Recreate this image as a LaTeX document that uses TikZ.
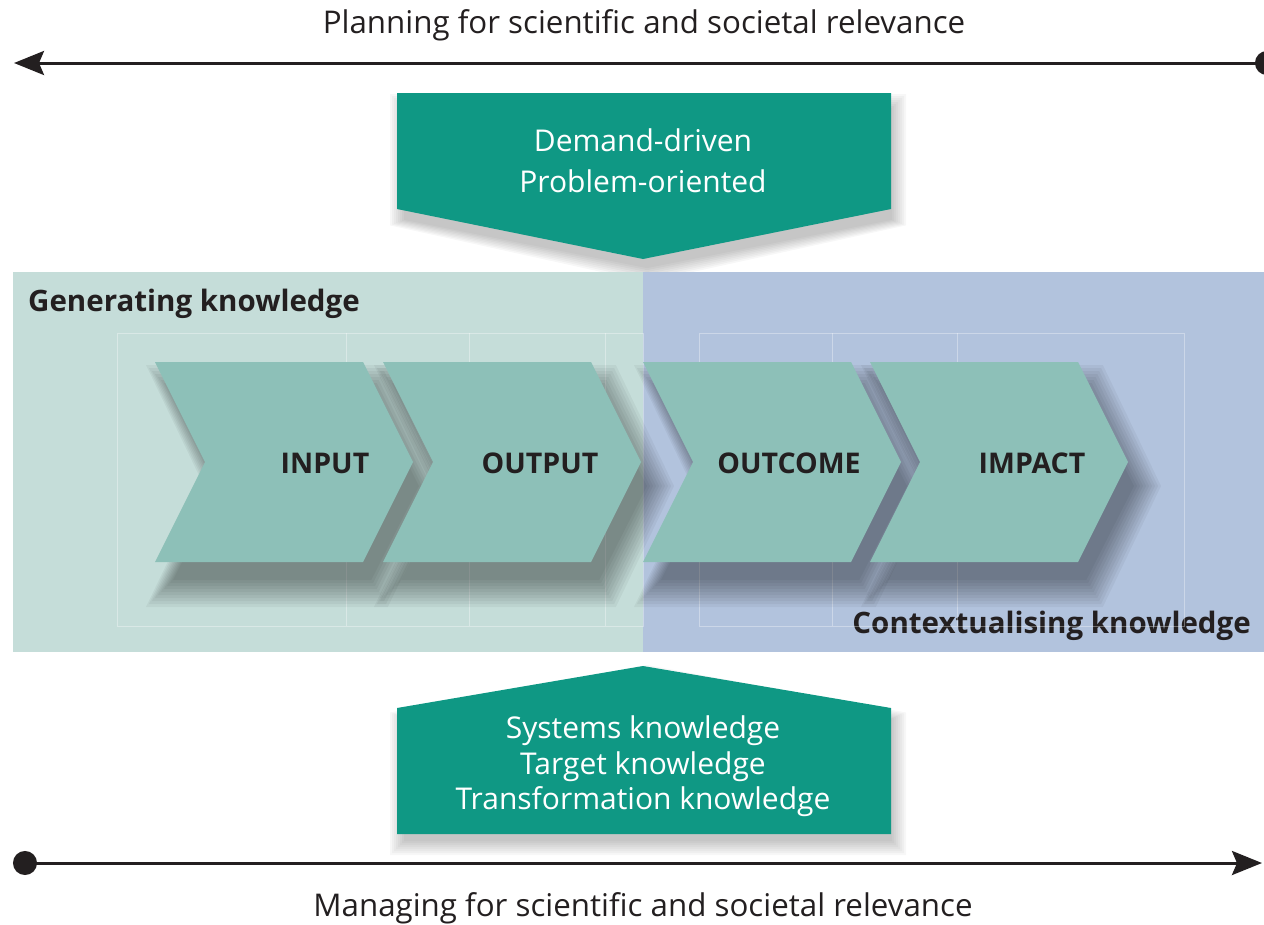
\documentclass[tikz,border=0pt]{standalone}
\usepackage{fontspec}
\setmainfont{Open Sans}
\usetikzlibrary{arrows.meta}

\definecolor{boxgreen}{HTML}{0F9884}
\definecolor{genpanel}{HTML}{C5DDD9}
\definecolor{ctxpanel}{HTML}{B2C3DD}
\definecolor{chevfill}{HTML}{8DC0B8}
\definecolor{inkdark}{HTML}{231F20}

\newcommand\chevshape[1]{(#1,362) -- ++(208,0) -- ++(50,100) -- ++(-50,100)
  -- ++(-208,0) -- ++(50,-100) -- cycle}
\newcommand\demandshape{(397,93) -- (891,93) -- (891,209) -- (643,259) -- (397,209) -- cycle}
\newcommand\knowshape{(643,666) -- (891,708) -- (891,834) -- (397,834) -- (397,708) -- cycle}

\tikzset{
  title/.style={anchor=base,text=inkdark,inner sep=0pt,font=\fontsize{31.3}{37}\selectfont},
  panellbl/.style={text=inkdark,inner sep=0pt,font=\fontsize{29.5}{35}\selectfont\bfseries},
  chevlbl/.style={anchor=base,text=inkdark,inner sep=0pt,font=\fontsize{28.5}{34}\selectfont\bfseries},
  pentxt/.style={anchor=base,text=white,inner sep=0pt,font=\fontsize{30}{36}\selectfont},
  chev/.style={fill=chevfill},
  pent/.style={fill=boxgreen},
  chevshadow/.style={fill=black,fill opacity=0.042},
  pentshadow/.style={fill=black,fill opacity=0.03},
  faint/.style={draw=white,opacity=0.35,line width=0.8pt},
  relarrow/.style={line width=3pt,draw=inkdark,
      arrows={Circle[length=24pt]-Stealth[length=30pt,width=24pt,inset=5pt]}}
}

\begin{document}
\begin{tikzpicture}
  [x=1pt,y=-1pt]
  \useasboundingbox (0,0) rectangle (1264,924);

  % top and bottom relevance lines
  \node[title] (plan) at (644,33) {Planning for scientific and societal relevance};
  \coordinate (planstart) at (1279,63);
  \coordinate (planend) at (14,63);
  \draw[relarrow] (planstart) -- (planend);

  \node[title] (manage) at (643,916) {Managing for scientific and societal relevance};
  \coordinate (managestart) at (13,863);
  \coordinate (manageend) at (1262,863);
  \draw[relarrow] (managestart) -- (manageend);

  % demand box
  \foreach \e in {-3,-1,...,11}
    \fill[pentshadow,shift={(648,188)},xscale=1+\e/247,yscale=1+\e/83,shift={(-644,-176)}] \demandshape;
  \fill[pent] \demandshape;
  \node[pentxt] (demand) at (643,151) {Demand-driven};
  \node[pentxt] (problem) at (643,192) {Problem-oriented};

  % panels
  \fill[genpanel] (13,272) rectangle (643,652);
  \fill[ctxpanel] (643,272) rectangle (1264,652);
  \node[panellbl,anchor=base west] (gen) at (28,311) {Generating knowledge};
  \node[panellbl,anchor=base east] (ctx) at (1251,633) {Contextualising knowledge};

  \draw[faint] (117,333) rectangle (643,626);
  \foreach \x in {346,469,605} \draw[faint] (\x,333) -- (\x,626);
  \draw[faint] (699,333) rectangle (1184,626);
  \foreach \x in {832,957} \draw[faint] (\x,333) -- (\x,626);

  % chevrons
  \foreach \x in {155,383,643,870}
    \foreach \e in {-6,-3,...,21}
      \fill[chevshadow,shift={(\x+141,486)},xscale=1+\e/129,yscale=1+\e/100,shift={(-\x-129,-462)}] \chevshape{\x};
  \foreach \x/\tx/\nm/\txt in {155/325/input/INPUT, 383/540/output/OUTPUT,
      643/789/outcome/OUTCOME, 870/1032/impact/IMPACT}{
    \fill[chev] \chevshape{\x};
    \node[chevlbl] (\nm) at (\tx,473) {\txt};
  }

  % knowledge box
  \foreach \e in {-3,-1,...,11}
    \fill[pentshadow,shift={(648,760)},xscale=1+\e/247,yscale=1+\e/84,shift={(-644,-750)}] \knowshape;
  \fill[pent] \knowshape;
  \node[pentxt] (systems) at (643,738) {Systems knowledge};
  \node[pentxt] (target) at (643,774) {Target knowledge};
  \node[pentxt] (transf) at (643,809) {Transformation knowledge};

\end{tikzpicture}
\end{document}
